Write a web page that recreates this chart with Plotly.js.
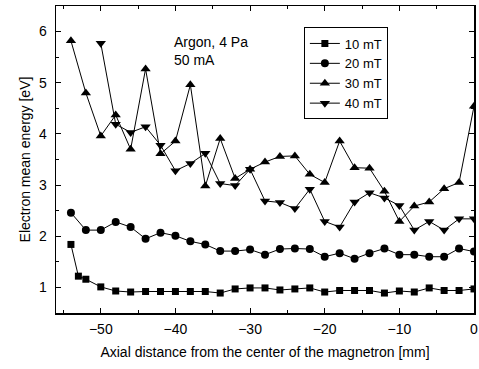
<!DOCTYPE html>
<html>
<head>
<meta charset="utf-8">
<script src="https://cdn.plot.ly/plotly-3.0.1.min.js"></script>
<style>html,body{margin:0;padding:0;background:#fff;}#chart{width:479px;height:369px;}</style>
</head>
<body>
<div id="chart"></div>
<script>
const x10 = [-54,-53,-52,-50,-48,-46,-44,-42,-40,-38,-36,-34,-32,-30,-28,-26,-24,-22,-20,-18,-16,-14,-12,-10,-8,-6,-4,-2,0];
const y10 = [1.84,1.22,1.16,1.01,0.93,0.91,0.92,0.92,0.92,0.92,0.92,0.89,0.97,0.99,0.99,0.95,0.97,0.99,0.91,0.94,0.94,0.94,0.89,0.93,0.91,0.99,0.94,0.94,0.97];
const x20 = [-54,-52,-50,-48,-46,-44,-42,-40,-38,-36,-34,-32,-30,-28,-26,-24,-22,-20,-18,-16,-14,-12,-10,-8,-6,-4,-2,0];
const y20 = [2.46,2.12,2.12,2.28,2.18,1.95,2.07,2.01,1.90,1.84,1.71,1.71,1.74,1.64,1.75,1.76,1.75,1.60,1.67,1.56,1.67,1.76,1.64,1.64,1.60,1.60,1.76,1.70];
const x30 = [-54,-52,-50,-48,-46,-44,-42,-40,-38,-36,-34,-32,-30,-28,-26,-24,-22,-20,-18,-16,-14,-12,-10,-8,-6,-4,-2,0];
const y30 = [5.82,4.80,3.96,4.37,3.70,5.27,3.61,3.86,4.96,2.98,3.91,3.13,3.31,3.45,3.56,3.57,3.21,3.05,3.86,3.34,3.33,2.88,2.29,2.59,2.67,2.93,3.05,4.54];
const x40 = [-50,-48,-46,-44,-42,-40,-38,-36,-34,-32,-30,-28,-26,-24,-22,-20,-18,-16,-14,-12,-10,-8,-6,-4,-2,0];
const y40 = [5.77,4.19,4.03,4.14,3.78,3.28,3.42,3.62,3.03,2.99,3.31,2.69,2.66,2.54,2.92,2.29,2.18,2.67,2.85,2.75,2.60,2.12,2.29,2.12,2.34,2.34];
const seriesNames = ['10 mT','20 mT','30 mT','40 mT'];
const symbols = ['square','circle','triangle-up','triangle-down'];
const xTickVals = [-50,-40,-30,-20,-10,0];
const yTickVals = [1,2,3,4,5,6];
const noteText = 'Argon, 4 Pa<br>50 mA';
const xTitle = 'Axial distance from the center of the magnetron [mm]';
const yTitle = 'Electron mean energy [eV]';

const FONT = 'Liberation Sans, Arial, sans-serif';
const xs = [x10,x20,x30,x40], ys = [y10,y20,y30,y40];
const sizes = [7,8,9,9];
const traces = xs.map((x,i)=>({
  x: x, y: ys[i], name: seriesNames[i], type: 'scatter', mode: 'lines+markers',
  line: {color: '#000', width: 1},
  marker: {symbol: symbols[i], size: sizes[i], color: '#000'}
}));

const axisCommon = {
  showline: true, linecolor: '#000', linewidth: 1.5, mirror: 'ticks',
  ticks: 'inside', ticklen: 5, tickwidth: 1, tickcolor: '#000',
  showgrid: false, zeroline: false,
  tickfont: {family: FONT, size: 14, color: '#000'},
  automargin: false
};

const layout = {
  width: 479, height: 369,
  margin: {l: 56, r: 5, t: 6, b: 56},
  paper_bgcolor: '#fff', plot_bgcolor: '#fff',
  font: {family: FONT, color: '#000'},
  showlegend: true,
  legend: {
    x: 0.593, y: 0.93, xanchor: 'left', yanchor: 'top',
    bordercolor: '#000', borderwidth: 1, bgcolor: '#fff',
    font: {family: FONT, size: 13, color: '#000'},
    itemwidth: 30, tracegroupgap: 0
  },
  xaxis: Object.assign({}, axisCommon, {
    range: [-56, 0], tickvals: xTickVals,
    minor: {dtick: 5, ticks: 'inside', ticklen: 3, tickcolor: '#000', showgrid: false},
    ticklabelstandoff: 3,
    title: {text: xTitle, font: {family: FONT, size: 14, color: '#000'}, standoff: 11}
  }),
  yaxis: Object.assign({}, axisCommon, {
    range: [0.5, 6.5], tickvals: yTickVals,
    minor: {dtick: 0.5, ticks: 'inside', ticklen: 3, tickcolor: '#000', showgrid: false},
    ticklabelstandoff: 5,
    title: {text: yTitle, font: {family: FONT, size: 14, color: '#000'}, standoff: 5}
  }),
  annotations: [{
    text: noteText, xref: 'paper', yref: 'paper', x: 0.2775, y: 0.915,
    xanchor: 'left', yanchor: 'top', align: 'left', showarrow: false,
    font: {family: FONT, size: 14, color: '#000'}
  }]
};

Plotly.newPlot('chart', traces, layout, {staticPlot: true, displayModeBar: false});
</script>
</body>
</html>
